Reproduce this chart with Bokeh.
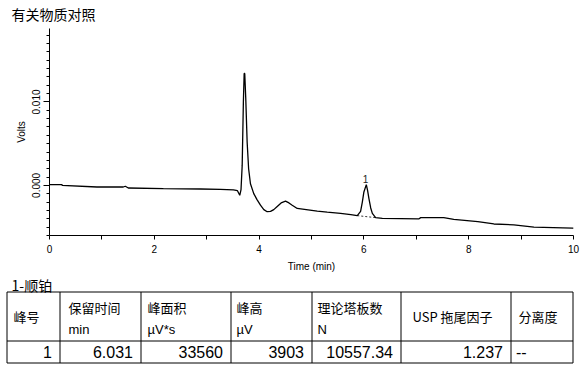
from bokeh.plotting import figure
from bokeh.models import Range1d, FixedTicker, NumeralTickFormatter
from bokeh.layouts import column
from bokeh.embed import file_html
from bokeh.resources import INLINE
from bokeh.core.properties import value

# ---------------- data ----------------
chart_title = "有关物质对照"
x_axis_label = "Time (min)"
y_axis_label = "Volts"

time_min = [0.0, 0.237, 0.243, 0.906, 1.408, 1.447, 1.504, 2.173, 2.88, 3.262, 3.511,
            3.587, 3.631, 3.655, 3.677, 3.700, 3.715, 3.726, 3.745, 3.772, 3.80, 3.835,
            3.898, 3.96, 4.026, 4.09, 4.154, 4.218, 4.28, 4.346, 4.42, 4.504, 4.57,
            4.632, 4.728, 4.9, 5.11, 5.3, 5.555, 5.75, 5.874, 5.937, 5.97, 6.0, 6.046,
            6.07, 6.096, 6.13, 6.161, 6.224, 6.352, 6.702, 7.046, 7.084, 7.524, 7.715,
            8.174, 8.48, 8.862, 9.245, 9.983, 10.0]
volts = [0.0001, 0.0001, 0.0, -0.00019, -0.00019, -0.0001, -0.00031, -0.00039, -0.00043,
         -0.00047, -0.00054, -0.00063, -0.00118, -0.0005, 0.00237, 0.0100, 0.01342,
         0.01342, 0.0105, 0.00517, 0.0020, 0.0002, -0.00098, -0.0017, -0.00237, -0.0029,
         -0.00315, -0.00311, -0.0029, -0.00252, -0.0021, -0.00189, -0.0021, -0.00237,
         -0.00276, -0.0029, -0.00308, -0.0032, -0.00335, -0.0035, -0.00362, -0.00311,
         -0.0020, -0.00078, 0.0001, -0.0006, -0.00157, -0.0027, -0.00335, -0.00386,
         -0.00394, -0.00398, -0.00402, -0.00386, -0.00386, -0.00406, -0.00433, -0.00462,
         -0.00473, -0.005, -0.00512, -0.00513]

peak_names = ["1"]
peak_times = [6.031]
peak_apex = [0.0001]
peak_base_t = [5.874, 6.224]
peak_base_v = [-0.00362, -0.00386]

x_ticks = [0, 2, 4, 6, 8, 10]
x_minor_ticks = [1, 3, 5, 7, 9]
y_ticks = [0.0, 0.010]
y_minor_ticks = [-0.006, -0.005, -0.004, -0.003, -0.002, -0.001, 0.0, 0.001, 0.002,
                 0.003, 0.004, 0.005, 0.006, 0.007, 0.008, 0.009, 0.010, 0.011, 0.012,
                 0.013, 0.014, 0.015, 0.016, 0.017, 0.018]

table_title = "1-顺铂"
header_line1 = ["峰号", "保留时间", "峰面积", "峰高", "理论塔板数", "USP 拖尾因子", "分离度"]
header_line2 = ["", "min", "µV*s", "µV", "N", "", ""]
row_values = ["1", "6.031", "33560", "3903", "10557.34", "1.237", "--"]
row_align = ["right", "right", "right", "right", "right", "right", "left"]

# ---------------- style / layout ----------------
LAT_STR = "'Liberation Sans', Arial, sans-serif"
CJK_STR = "'Noto Sans CJK SC', sans-serif"
LAT = value(LAT_STR)
CJK = value(CJK_STR)
W = 584
CH = 274
TH = 92

p = figure(width=W, height=CH, x_range=Range1d(0, 10), y_range=Range1d(-0.006, 0.0188),
           output_backend="svg", toolbar_location=None,
           min_border_left=49, min_border_right=11, min_border_top=27, min_border_bottom=37)
p.frame_align = False
p.outline_line_color = None
p.xgrid.visible = False
p.ygrid.visible = False
p.background_fill_color = "white"
p.border_fill_color = "white"

p.title.text = chart_title
p.title.text_font = CJK_STR
p.title.text_font_size = "14px"
p.title.text_font_style = "normal"
p.title.text_color = "black"
p.title.align = "left"
p.title.vertical_align = "top"
p.title.offset = -38
p.title.standoff = 6

p.line(time_min, volts, line_color="black", line_width=1.3)
p.line(peak_base_t, peak_base_v, line_color="black", line_width=0.8, line_dash="2 2")
p.text(x=peak_times, y=peak_apex, text=peak_names, text_align="center",
       text_baseline="bottom", y_offset=-2, text_font_size="10px", text_font=LAT,
       text_color="#222222")

xa = p.xaxis[0]
xa.ticker = FixedTicker(ticks=x_ticks, minor_ticks=x_minor_ticks)
xa.major_tick_in = 0
xa.major_tick_out = 4
xa.minor_tick_in = 0
xa.minor_tick_out = 4
xa.axis_label = x_axis_label
xa.axis_label_text_font_style = "normal"
xa.axis_label_text_font_size = "10px"
xa.axis_label_text_font = LAT_STR
xa.axis_label_standoff = 5
xa.major_label_text_font_size = "10px"
xa.major_label_text_font = LAT_STR
xa.major_label_standoff = 5

ya = p.yaxis[0]
ya.ticker = FixedTicker(ticks=y_ticks, minor_ticks=y_minor_ticks)
ya.formatter = NumeralTickFormatter(format="0.000")
ya.major_label_orientation = "vertical"
ya.major_tick_in = 0
ya.major_tick_out = 6
ya.minor_tick_in = 0
ya.minor_tick_out = 3
ya.axis_label = y_axis_label
ya.axis_label_text_font_style = "normal"
ya.axis_label_text_font_size = "10px"
ya.axis_label_text_font = LAT_STR
ya.axis_label_standoff = 3
ya.major_label_text_font_size = "10px"
ya.major_label_text_font = LAT_STR
ya.major_label_standoff = 3

for ax in (xa, ya):
    ax.axis_line_color = "black"
    ax.major_tick_line_color = "black"
    ax.minor_tick_line_color = "black"
    ax.major_label_text_color = "black"
    ax.axis_label_text_color = "black"

# ---------------- table ----------------
t = figure(width=W, height=TH, x_range=Range1d(0, W), y_range=Range1d(CH + TH, CH),
           output_backend="svg", toolbar_location=None, min_border=0,
           min_border_left=0, min_border_right=0, min_border_top=0, min_border_bottom=0,
           x_axis_location=None, y_axis_location=None)
t.frame_align = False
t.outline_line_color = None
t.xgrid.visible = False
t.ygrid.visible = False

col_edges = [6.5, 59.5, 140.5, 230.5, 311.5, 400.5, 510.5, 572.5]
row_edges = [291.5, 340.5, 362.5]

t.segment(x0=col_edges, y0=[row_edges[0]] * len(col_edges), x1=col_edges,
          y1=[row_edges[-1]] * len(col_edges), line_color="black", line_width=1)
t.segment(x0=[col_edges[0]] * len(row_edges), y0=row_edges,
          x1=[col_edges[-1]] * len(row_edges), y1=row_edges, line_color="black", line_width=1)

t.text(x=[11], y=[284], text=[table_title], text_font_size="14px", text_font=CJK,
       text_baseline="middle", text_align="left", text_color="black")

hx = [13, 68, 147, 236, 317, 412, 518]
one_x, one_y, one_t = [], [], []
l1_x, l1_t, l2_x, l2_t = [], [], [], []
for i, (h1, h2) in enumerate(zip(header_line1, header_line2)):
    if h2:
        l1_x.append(hx[i])
        l1_t.append(h1)
        l2_x.append(hx[i])
        l2_t.append(h2)
    else:
        one_x.append(hx[i])
        one_y.append(316)
        one_t.append(h1)
t.text(x=one_x, y=one_y, text=one_t, text_font_size="13px", text_font=CJK,
       text_baseline="middle", text_align="left", text_color="black")
t.text(x=l1_x, y=[307] * len(l1_x), text=l1_t, text_font_size="13px", text_font=CJK,
       text_baseline="middle", text_align="left", text_color="black")
t.text(x=l2_x, y=[329] * len(l2_x), text=l2_t, text_font_size="13px", text_font=LAT,
       text_baseline="middle", text_align="left", text_color="black")

rx, rt, lx, lt = [], [], [], []
for i, (v, a) in enumerate(zip(row_values, row_align)):
    if a == "right":
        rx.append(col_edges[i + 1] - 8)
        rt.append(v)
    else:
        lx.append(col_edges[i] + 5)
        lt.append(v)
t.text(x=rx, y=[351] * len(rx), text=rt, text_font_size="16px", text_font=LAT,
       text_baseline="middle", text_align="right", text_color="black")
t.text(x=lx, y=[351] * len(lx), text=lt, text_font_size="16px", text_font=LAT,
       text_baseline="middle", text_align="left", text_color="black")

layout = column(p, t, spacing=0)
open("out.html", "w").write(file_html(layout, INLINE))
